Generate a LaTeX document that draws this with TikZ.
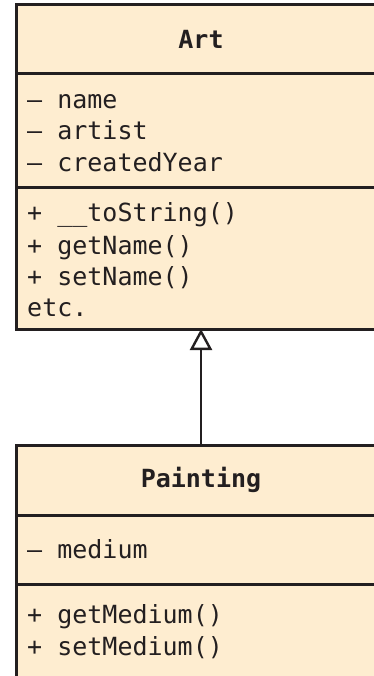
\documentclass[tikz,border=0pt]{standalone}
\usepackage{fontspec}
\setmonofont{DejaVu Sans Mono}
\usetikzlibrary{arrows.meta}
\definecolor{umlfill}{RGB}{254,237,208}
\definecolor{umlline}{RGB}{35,31,32}
\tikzset{
  compartment/.style={draw=umlline, fill=umlfill, line width=3pt, outer sep=0pt, inner sep=0pt, minimum width=370pt, anchor=north west},
  member/.style={anchor=base west, inner sep=0pt, text=umlline, font=\ttfamily\fontsize{25}{30}\selectfont},
  classname/.style={text=umlline, font=\ttfamily\bfseries\fontsize{25}{30}\selectfont},
  inherits/.style={draw=umlline, line width=2.4pt, -{Triangle[open, length=21pt, width=22pt]}}
}
\begin{document}
\begin{tikzpicture}[x=1pt, y=-1pt]
            \useasboundingbox (0,0) rectangle (374,676);
            \clip (0,0) rectangle (374,676);
            % Art
            \node[compartment, minimum height=69pt]  (arttitle) at (16,5)   {};
            \node[compartment, minimum height=114pt] (artattr)  at (16,74)  {};
            \node[compartment, minimum height=141pt] (artops)   at (16,188) {};
            \node[classname] (artname) at (arttitle.center) {Art};
            \node[member] (artattr1) at (27,109) {– name};
            \node[member] (artattr2) at (27,140) {– artist};
            \node[member] (artattr3) at (27,172) {– createdYear};
            \node[member] (artop1) at (27,222) {+ \_\_toString()};
            \node[member] (artop2) at (27,254) {+ getName()};
            \node[member] (artop3) at (27,285) {+ setName()};
            \node[member] (artop4) at (27,316) {etc.};
            % Painting
            \node[compartment, minimum height=70pt]  (painttitle) at (16,445) {};
            \node[compartment, minimum height=69pt]  (paintattr)  at (16,515) {};
            \node[compartment, minimum height=120pt] (paintops)   at (16,584) {};
            \node[classname] (paintname) at (painttitle.center) {Painting};
            \node[member] (paintattr1) at (27,558) {– medium};
            \node[member] (paintop1) at (27,623) {+ getMedium()};
            \node[member] (paintop2) at (27,655) {+ setMedium()};
            \draw[inherits] (painttitle.north) -- (artops.south);
        \end{tikzpicture}
\end{document}
